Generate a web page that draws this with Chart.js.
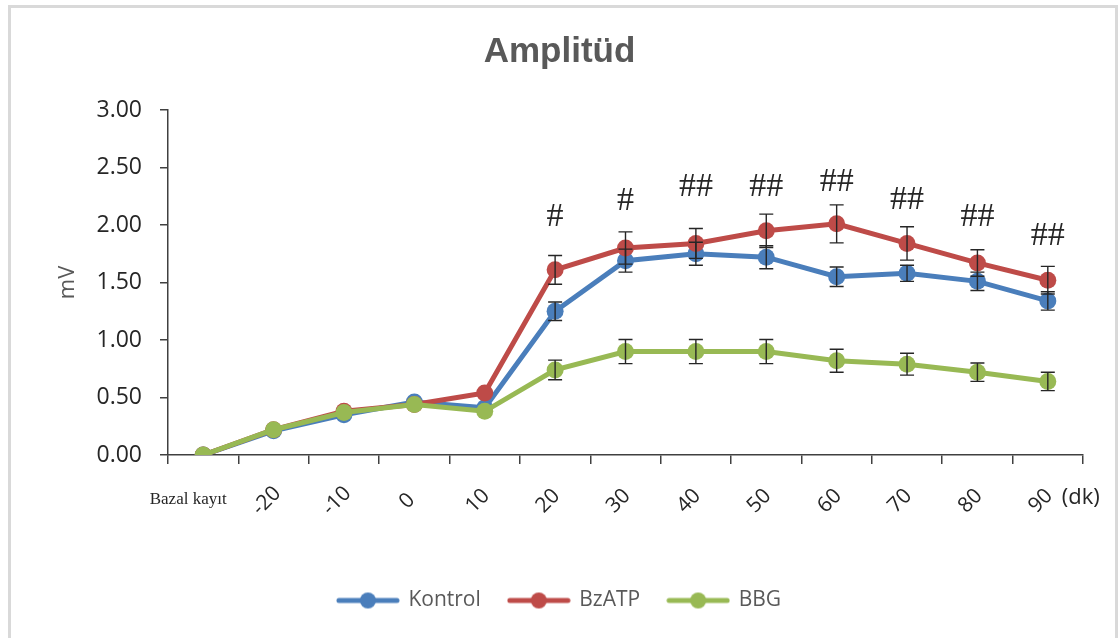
<!DOCTYPE html>
<html>
<head>
<meta charset="utf-8">
<script src="https://cdn.jsdelivr.net/npm/chart.js@4.4.1/dist/chart.umd.min.js"></script>
<style>
  html, body { margin: 0; padding: 0; background: #fff; }
  #wrap { position: relative; width: 1119px; height: 638px; overflow: hidden; }
  #frame {
    position: absolute; left: 8px; top: 5px; width: 1104px; height: 700px;
    border: 3px solid #d9d9d9; border-bottom: none; pointer-events: none;
  }
</style>
</head>
<body>
<div id="wrap">
  <canvas id="amp-chart" width="1119" height="638"></canvas>
  <div id="frame"></div>
</div>
<script>
// values (mV)
const categories = ["Bazal kayıt", "-20", "-10", "0", "10", "20", "30", "40", "50", "60", "70", "80", "90"];
const xUnit = "(dk)";
const kontrol = [0.00, 0.21, 0.35, 0.46, 0.41, 1.25, 1.69, 1.75, 1.72, 1.55, 1.58, 1.51, 1.34];
const bzatp = [0.00, 0.22, 0.38, 0.44, 0.54, 1.61, 1.80, 1.84, 1.95, 2.01, 1.84, 1.67, 1.52];
const bbg = [0.00, 0.22, 0.37, 0.44, 0.38, 0.74, 0.90, 0.90, 0.90, 0.82, 0.79, 0.72, 0.64];
const kontrolErr = [0, 0, 0, 0, 0, 0.08, 0.10, 0.10, 0.10, 0.085, 0.07, 0.08, 0.08];
const bzatpErr = [0, 0, 0, 0, 0, 0.125, 0.14, 0.13, 0.145, 0.165, 0.145, 0.115, 0.12];
const bbgErr = [0, 0, 0, 0, 0, 0.085, 0.105, 0.105, 0.105, 0.10, 0.095, 0.08, 0.08];
const marks = ["", "", "", "", "", "#", "#", "##", "##", "##", "##", "##", "##"];
const markY = [null, null, null, null, null, 2.07, 2.21, 2.33, 2.33, 2.37, 2.22, 2.07, 1.90];

const colors = ["#4A7EBB", "#BE4B48", "#98B954"];
const errors = [kontrolErr, bzatpErr, bbgErr];

function legendIcon(color) {
  const c = document.createElement("canvas");
  c.width = 64;
  c.height = 18;
  const g = c.getContext("2d");
  g.strokeStyle = color;
  g.lineWidth = 5;
  g.lineCap = "round";
  g.beginPath();
  g.moveTo(3, 9);
  g.lineTo(61, 9);
  g.stroke();
  g.fillStyle = color;
  g.beginPath();
  g.arc(32, 9, 8, 0, Math.PI * 2);
  g.fill();
  return c;
}
const icons = colors.map(legendIcon);

const errorBars = {
  id: "errorBars",
  afterDatasetsDraw(chart) {
    const { ctx, scales: { x, y } } = chart;
    ctx.save();
    ctx.strokeStyle = "#262626";
    ctx.lineWidth = 1.4;
    chart.data.datasets.forEach((ds, d) => {
      ds.data.forEach((v, i) => {
        const e = errors[d][i];
        if (!e) return;
        const px = x.getPixelForValue(i);
        const top = y.getPixelForValue(v + e);
        const bot = y.getPixelForValue(v - e);
        ctx.beginPath();
        ctx.moveTo(px, top); ctx.lineTo(px, bot);
        ctx.moveTo(px - 7, top); ctx.lineTo(px + 7, top);
        ctx.moveTo(px - 7, bot); ctx.lineTo(px + 7, bot);
        ctx.stroke();
      });
    });
    ctx.restore();
  }
};

const sigMarks = {
  id: "sigMarks",
  afterDatasetsDraw(chart) {
    const { ctx, scales: { x, y } } = chart;
    ctx.save();
    ctx.font = "34px 'Liberation Serif'";
    ctx.fillStyle = "#262626";
    ctx.textAlign = "center";
    ctx.textBaseline = "middle";
    marks.forEach((m, i) => {
      if (!m) return;
      ctx.fillText(m, x.getPixelForValue(i), y.getPixelForValue(markY[i]));
    });
    ctx.restore();
  }
};

const xLabels = {
  id: "xLabels",
  afterDraw(chart) {
    const { ctx, scales: { x } } = chart;
    ctx.save();
    ctx.fillStyle = "#262626";
    ctx.textBaseline = "middle";
    categories.forEach((lab, i) => {
      const px = x.getPixelForValue(i);
      if (i === 0) {
        ctx.font = "17px 'Liberation Serif'";
        ctx.textAlign = "center";
        ctx.fillText(lab, px - 15, x.top + 45);
        return;
      }
      ctx.save();
      ctx.font = "21px 'Open Sans'";
      ctx.textAlign = "center";
      ctx.translate(px - 7, x.top + 46);
      ctx.rotate(-Math.PI / 4);
      ctx.fillText(lab, 0, 0);
      ctx.restore();
    });
    const last = x.getPixelForValue(categories.length - 1);
    ctx.font = "22px 'Open Sans'";
    ctx.textAlign = "left";
    ctx.fillText(xUnit, last + 14, x.top + 43);
    ctx.restore();
  }
};

function line(label, data, color, order) {
  return {
    label,
    data,
    order,
    borderColor: color,
    backgroundColor: color,
    borderWidth: 5,
    pointRadius: 8.5,
    pointBorderWidth: 0,
    pointBackgroundColor: color,
    tension: 0
  };
}

const axisColor = "#404040";

new Chart("amp-chart", {
  type: "line",
  data: {
    labels: categories,
    datasets: [
      line("Kontrol", kontrol, colors[0], 3),
      line("BzATP", bzatp, colors[1], 2),
      line("BBG", bbg, colors[2], 1)
    ]
  },
  options: {
    responsive: false,
    animation: false,
    devicePixelRatio: 1,
    layout: { padding: { top: 10, left: 36, right: 36, bottom: 17 } },
    plugins: {
      tooltip: { enabled: false },
      title: {
        display: true,
        text: "Amplitüd",
        color: "#595959",
        font: { family: "'Liberation Sans'", size: 35, weight: "bold" },
        padding: { top: 21, bottom: 37 }
      },
      legend: {
        position: "bottom",
        labels: {
          usePointStyle: true,
          pointStyleWidth: 60,
          boxHeight: 16,
          padding: 28,
          color: "#595959",
          font: { family: "'Open Sans'", size: 21 },
          sort: (a, b) => a.datasetIndex - b.datasetIndex,
          generateLabels(chart) {
            const items = Chart.defaults.plugins.legend.labels.generateLabels(chart);
            items.forEach(it => { it.pointStyle = icons[it.datasetIndex]; });
            return items;
          }
        }
      }
    },
    scales: {
      x: {
        type: "category",
        offset: true,
        border: { color: axisColor, width: 1.5 },
        grid: { offset: true, drawOnChartArea: false, drawTicks: true, tickLength: 9, color: axisColor, lineWidth: 1.5 },
        ticks: { display: false },
        afterFit(scale) { scale.height = 107; }
      },
      y: {
        min: 0,
        max: 3,
        border: { color: axisColor, width: 1.5 },
        grid: { drawOnChartArea: false, drawTicks: true, tickLength: 8, color: axisColor, lineWidth: 1.5 },
        ticks: {
          stepSize: 0.5,
          padding: 18,
          color: "#262626",
          font: { family: "'Open Sans'", size: 23 },
          callback: v => Number(v).toFixed(2)
        },
        title: {
          display: true,
          text: "mV",
          color: "#595959",
          font: { family: "'Open Sans'", size: 22 },
          padding: { top: 19 }
        },
        afterFit(scale) { scale.width = 132; }
      }
    }
  },
  plugins: [errorBars, sigMarks, xLabels]
});
</script>
</body>
</html>
